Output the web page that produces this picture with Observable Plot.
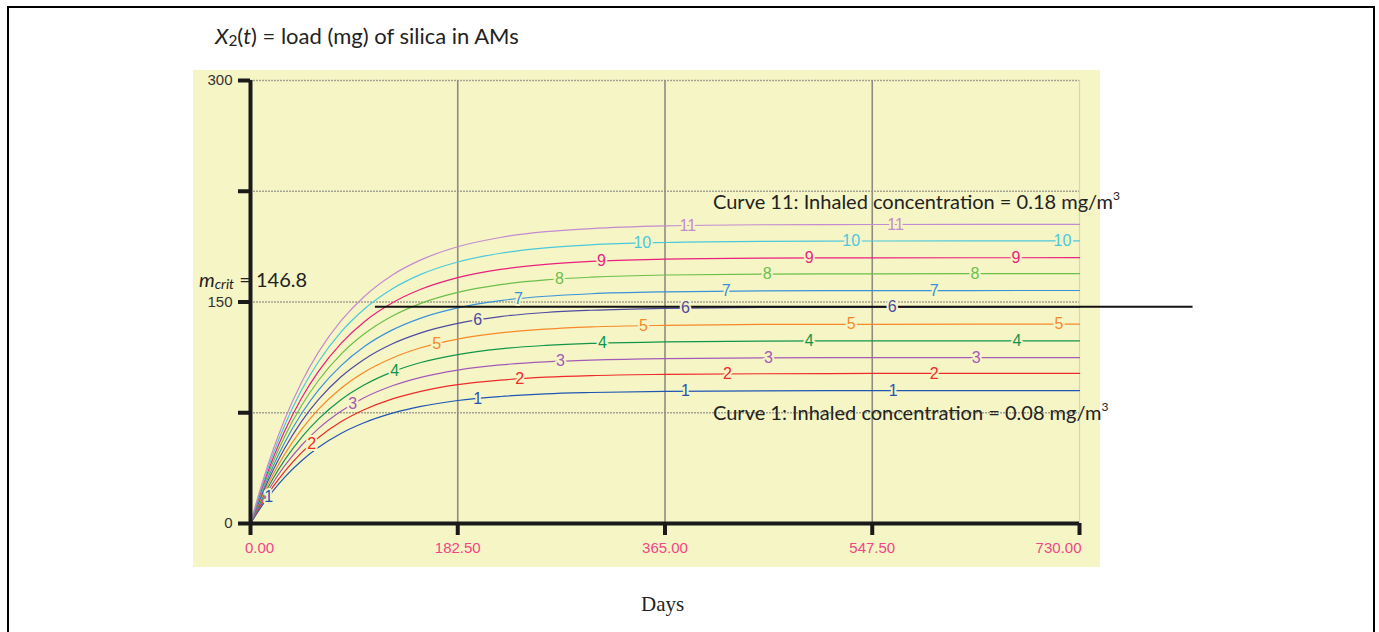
<!DOCTYPE html>
<html>
<head>
<meta charset="utf-8">
<script src="https://cdn.jsdelivr.net/npm/d3@7"></script>
<script src="https://cdn.jsdelivr.net/npm/@observablehq/plot@0.6"></script>
<style>
  html, body { margin: 0; padding: 0; background: #fff; }
  #page { position: relative; width: 1379px; height: 632px; overflow: hidden; font-family: Lato, "Open Sans", sans-serif; }
  #frame { position: absolute; left: 7px; top: 6px; width: 1368px; height: 640px; border: 2px solid #000; border-bottom: none; box-sizing: border-box; }
  #bg { position: absolute; left: 193px; top: 70px; width: 907px; height: 497px; background: #f6f5c5; }
  #chart { position: absolute; left: 0; top: 0; }
  #chart svg { overflow: visible; background: transparent; }
  .txt { position: absolute; white-space: nowrap; color: #222; line-height: 1; }
  #title { left: 215px; top: 25px; font-size: 22px; }
  #mcrit { left: 199px; top: 269px; font-size: 20px; }
  #ann11 { left: 713px; top: 191px; font-size: 20px; }
  #ann1 { left: 713px; top: 402px; font-size: 20px; }
  #xlabel { left: 641px; top: 594px; font-size: 21px; font-family: "Liberation Serif", "DejaVu Serif", serif; }
  sup { font-size: 0.6em; vertical-align: 0.75em; line-height: 0; }
  sub { font-size: 0.7em; vertical-align: -0.15em; line-height: 0; }
</style>
</head>
<body>
<div id="page">
  <div id="frame"></div>
  <div id="bg"></div>
  <div id="chart"></div>
  <div class="txt" id="title"><i>X</i><sub>2</sub>(<i>t</i>) = load (mg) of silica in AMs</div>
  <div class="txt" id="mcrit"><i>m<sub>crit</sub></i> = 146.8</div>
  <div class="txt" id="ann11">Curve 11: Inhaled concentration = 0.18 mg/m<sup>3</sup></div>
  <div class="txt" id="ann1">Curve 1: Inhaled concentration = 0.08 mg/m<sup>3</sup></div>
  <div class="txt" id="xlabel">Days</div>
</div>
<script>
// ---- data ----
const days = [0, 10, 20, 30, 45, 60, 80, 100, 125, 150, 182.5, 220, 260, 300, 365, 450, 547.5, 730];

const curve1  = [0, 11.9, 22.2, 31.2, 42.5, 51.6, 61.1, 68.2, 74.7, 79.3, 83.3, 86.0, 87.8, 88.7, 89.5, 89.8, 90.0, 90.0];
const curve2  = [0, 13.5, 25.1, 35.2, 48.0, 58.3, 69.0, 77.0, 84.4, 89.5, 94.0, 97.1, 99.1, 100.2, 101.0, 101.4, 101.6, 101.6];
const curve3  = [0, 14.9, 27.8, 39.0, 53.0, 64.4, 76.2, 85.2, 93.3, 99.0, 103.9, 107.4, 109.5, 110.7, 111.7, 112.1, 112.3, 112.3];
const curve4  = [0, 16.4, 30.6, 42.9, 58.4, 70.9, 84.0, 93.8, 102.7, 109.0, 114.4, 118.3, 120.6, 122.0, 123.0, 123.5, 123.7, 123.7];
const curve5  = [0, 17.9, 33.4, 46.8, 63.7, 77.4, 91.7, 102.4, 112.1, 119.0, 124.9, 129.1, 131.6, 133.1, 134.2, 134.8, 134.9, 135.0];
const curve6  = [0, 19.4, 36.2, 50.8, 69.2, 84.0, 99.5, 111.1, 121.7, 129.1, 135.5, 140.1, 142.9, 144.4, 145.7, 146.3, 146.4, 146.5];
const curve7  = [0, 20.9, 39.0, 54.7, 74.5, 90.5, 107.1, 119.7, 131.1, 139.1, 146.0, 150.9, 153.9, 155.6, 156.9, 157.5, 157.7, 157.8];
const curve8  = [0, 22.4, 41.8, 58.7, 79.9, 97.0, 114.9, 128.3, 140.5, 149.1, 156.5, 161.8, 165.0, 166.8, 168.3, 168.9, 169.1, 169.2];
const curve9  = [0, 23.8, 44.5, 62.4, 85.0, 103.2, 122.2, 136.5, 149.5, 158.6, 166.5, 172.1, 175.5, 177.5, 179.0, 179.7, 179.9, 180.0];
const curve10 = [0, 25.3, 47.3, 66.4, 90.4, 109.7, 129.9, 145.1, 159.0, 168.7, 177.1, 183.0, 186.6, 188.7, 190.3, 191.1, 191.3, 191.4];
const curve11 = [0, 26.8, 50.1, 70.3, 95.7, 116.2, 137.5, 153.6, 168.3, 178.5, 187.4, 193.7, 197.6, 199.7, 201.5, 202.3, 202.5, 202.6];

const curveIds = [1, 2, 3, 4, 5, 6, 7, 8, 9, 10, 11];
const curveColors = ["#1f56b5", "#ee2a2a", "#a45bb8", "#12954a", "#f7892a", "#4e4ba0", "#3a93d8", "#6cbf4a", "#ea1f7f", "#4cc8dc", "#c38bd0"];

// days at which each curve carries its number label
const labelDays = [
  [16, 200, 383, 566],
  [54, 237, 420, 602],
  [90, 273, 456, 639],
  [127, 310, 492, 675],
  [164, 346, 529, 712],
  [200, 383, 565],
  [236, 419, 602],
  [272, 455, 638],
  [309, 492, 674],
  [345, 529, 715],
  [385, 568]
];

const xTicks = [0, 182.5, 365, 547.5, 730];
const yTicks = [0, 75, 150, 225, 300];
const yTickLabels = [0, 150, 300];
const mcrit = 146.8;
const mcritFrom = 110;
const mcritTo = 830;

// ---- build tables ----
const allCurves = [curve1, curve2, curve3, curve4, curve5, curve6, curve7, curve8, curve9, curve10, curve11];
const rows = [];
allCurves.forEach((vals, i) => vals.forEach((v, j) => rows.push({curve: curveIds[i], day: days[j], value: v})));

function valueAt(vals, t) {
  const j = Math.min(days.length - 1, Math.max(1, d3.bisectRight(days, t)));
  const t0 = days[j - 1], t1 = days[j];
  const u = (t - t0) / (t1 - t0);
  return vals[j - 1] + u * (vals[j] - vals[j - 1]);
}
const labels = [];
labelDays.forEach((ds, i) => ds.forEach(t => labels.push({curve: curveIds[i], day: t, value: valueAt(allCurves[i], t)})));

const bg = "#f6f5c5";
const axisFont = "Liberation Sans, Arial, sans-serif";
const pink = "#f0468a";
const fmt = d3.format(".2f");

const chart = Plot.plot({
  width: 1379,
  height: 632,
  marginLeft: 250,
  marginRight: 300,
  marginTop: 80,
  marginBottom: 109,
  style: {background: "transparent", overflow: "visible", fontSize: "15px", fontFamily: axisFont},
  x: {domain: [0, 730]},
  y: {domain: [0, 300]},
  color: {type: "ordinal", domain: curveIds, range: curveColors},
  marks: [
    Plot.ruleY(yTicks.filter(d => d > 0), {stroke: "#a3a392", strokeWidth: 1.5, strokeDasharray: "2,1"}),
    Plot.ruleX(xTicks.filter(d => d > 0 && d < 730), {stroke: "#8d8d84", strokeWidth: 1.6}),
    Plot.ruleX([730], {stroke: "#d6d6bc", strokeWidth: 1.2}),
    Plot.line(rows, {x: "day", y: "value", z: "curve", stroke: "curve", strokeWidth: 1.2, curve: "monotone-x"}),
    Plot.ruleY([mcrit], {x1: mcritFrom, x2: mcritTo, stroke: "#111", strokeWidth: 2}),
    Plot.text(labels, {x: "day", y: "value", text: d => String(d.curve), fill: "curve", stroke: bg, strokeWidth: 4,
      fontSize: 16}),
    Plot.ruleX([0], {y1: 0, y2: 300, stroke: "#1a1a1a", strokeWidth: 4}),
    Plot.ruleY([0], {x1: 0, x2: 730, stroke: "#1a1a1a", strokeWidth: 4}),
    Plot.axisY({ticks: yTicks, tickFormat: d => yTickLabels.includes(d) ? String(d) : "", tickSize: 12, tickPadding: 6,
      stroke: "#1a1a1a", strokeWidth: 4, color: "#333", label: null}),
    Plot.axisX({ticks: xTicks, tickFormat: () => "", tickSize: 12, stroke: "#1a1a1a", strokeWidth: 4, label: null}),
    Plot.axisX({ticks: xTicks.slice(1, -1), tickFormat: fmt, tickSize: 0, tickPadding: 19,
      color: pink, label: null}),
    Plot.axisX({ticks: xTicks.slice(0, 1), tickFormat: fmt, tickSize: 0, tickPadding: 19, dx: 9,
      color: pink, label: null}),
    Plot.axisX({ticks: xTicks.slice(-1), tickFormat: fmt, tickSize: 0, tickPadding: 19, textAnchor: "end", dx: 2,
      color: pink, label: null})
  ]
});
document.getElementById("chart").appendChild(chart);
</script>
</body>
</html>
